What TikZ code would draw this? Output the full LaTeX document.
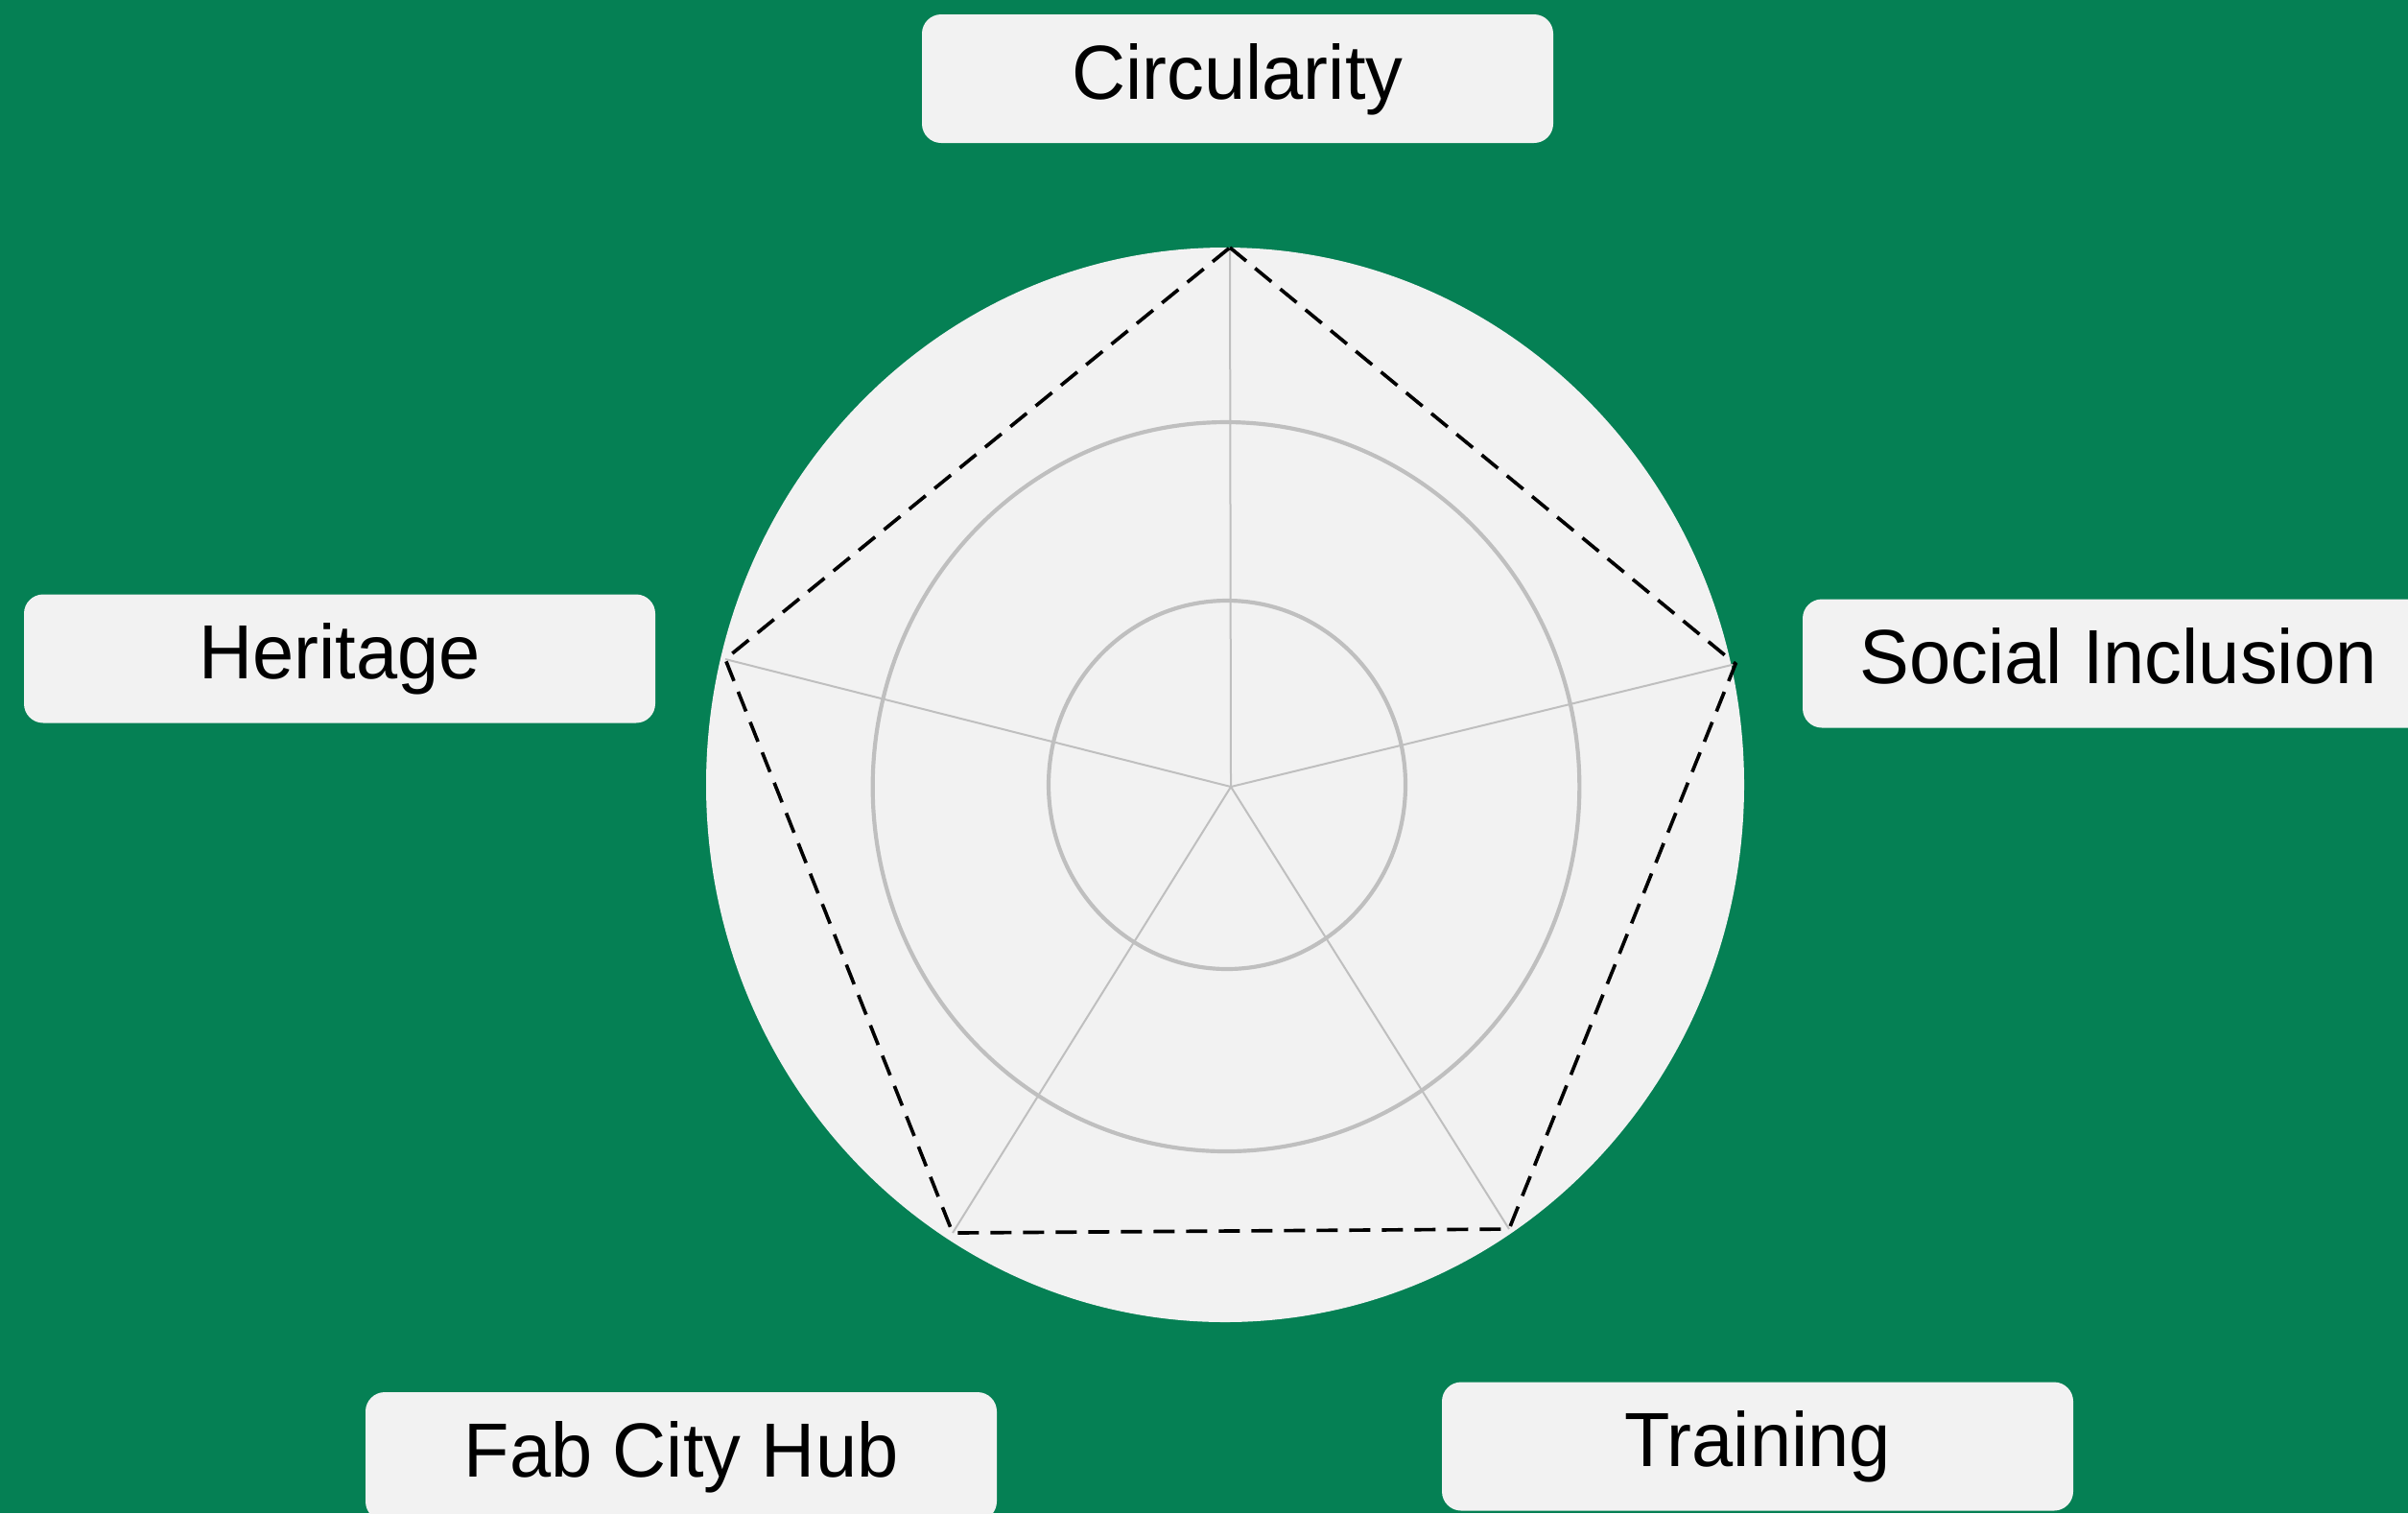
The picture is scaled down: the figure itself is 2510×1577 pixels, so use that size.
\documentclass[tikz,border=0pt]{standalone}
\usepackage{fontspec}
\setmainfont[FakeStretch=0.97]{Liberation Sans}
\definecolor{bggreen}{RGB}{5,128,84}
\definecolor{panel}{RGB}{242,242,242}
\definecolor{gridgray}{RGB}{191,191,191}
\tikzset{
  label box/.style={fill=panel, rounded corners=6pt, inner sep=0pt,
    minimum width=197.4pt, minimum height=40.2pt,
    text height=12.6pt, text depth=0pt, font=\fontsize{24}{28}\selectfont, text=black},
  ring/.style={draw=gridgray, line width=1.25pt},
  spoke/.style={draw=gridgray, line width=0.6pt},
  outline/.style={draw=black, line width=1.1pt, dash pattern=on 6.6pt off 3.6pt, line join=miter}
}
\begin{document}
\begin{tikzpicture}[x=0.3pt,y=-0.3pt]
\useasboundingbox (0,0) rectangle (2510,1577);
\clip (0,0) rectangle (2510,1577);
\fill[bggreen] (0,0) rectangle (2510,1577);
% radar disc and rings
\fill[panel] (1277,818) ellipse [x radius=162.3pt, y radius=168pt];
\draw[ring] (1278,820) ellipse [x radius=110.5pt, y radius=114pt];
\draw[ring] (1279,818) ellipse [x radius=55.8pt, y radius=57.6pt];
% axes
\coordinate (c) at (1283,820);
\coordinate (v1) at (1282,258);
\coordinate (v2) at (1809,692);
\coordinate (v3) at (1573,1281);
\coordinate (v4) at (993,1285);
\coordinate (v5) at (756,687);
\foreach \v in {v1,v2,v3,v4,v5} \draw[spoke] (c) -- (\v);
\draw[outline] (v1) -- (v2) -- (v3) -- (v4) -- (v5) -- cycle;
% labels
\node[label box] (circ) at (1290,82) {Circularity};
\node[label box] (soc) at (2208,691.5) {Social Inclusion};
\node[label box] (her) at (354,686.5) {Heritage};
\node[label box] (tra) at (1832,1507.5) {Training};
\node[label box] (fab) at (710,1518) {Fab City Hub};
\end{tikzpicture}
\end{document}
